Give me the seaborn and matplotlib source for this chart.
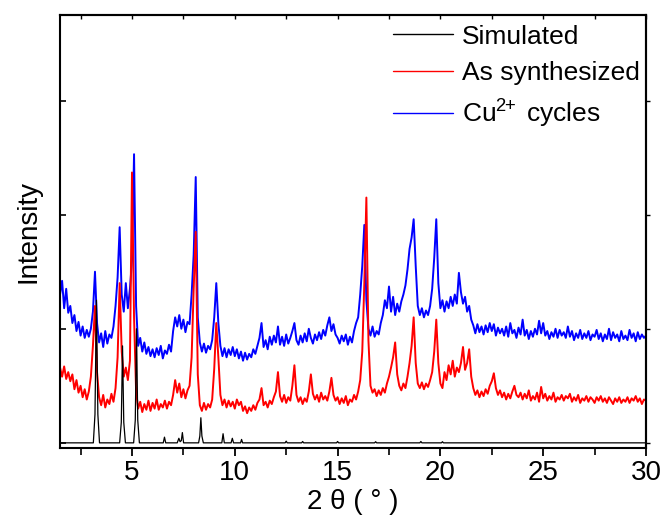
import numpy as np
import pandas as pd
import matplotlib
matplotlib.use("Agg")
import matplotlib.pyplot as plt
import seaborn as sns

# ---------------- data ----------------
# 2-theta grid for the measured patterns: 1.5 .. 30.0 in 0.1 deg steps
two_theta = np.round(np.arange(15, 301) / 10.0, 1)

as_synthesized = [
    0.66, 0.58, 0.67, 0.56, 0.62,                                   # 1.5-1.9
    0.54, 0.60, 0.47, 0.55, 0.44, 0.50, 0.40, 0.47, 0.38, 0.45,     # 2
    0.58, 0.85, 1.20, 0.62, 0.40, 0.33, 0.42, 0.31, 0.38, 0.34,     # 3
    0.43, 0.36, 0.48, 0.75, 1.40, 0.80, 0.58, 0.66, 0.55, 0.72,     # 4
    2.37, 1.10, 0.45, 0.30, 0.36, 0.27, 0.34, 0.29, 0.37, 0.28,     # 5
    0.35, 0.30, 0.38, 0.29, 0.34, 0.31, 0.37, 0.30, 0.36, 0.33,     # 6
    0.42, 0.55, 0.44, 0.52, 0.40, 0.47, 0.39, 0.46, 0.50, 0.75,     # 7
    1.35, 1.85, 0.60, 0.33, 0.28, 0.35, 0.29, 0.34, 0.31, 0.38,     # 8
    0.65, 1.05, 0.75, 0.42, 0.33, 0.38, 0.31, 0.37, 0.32, 0.36,     # 9
    0.30, 0.38, 0.33, 0.36, 0.28, 0.32, 0.26, 0.31, 0.28, 0.33,     # 10
    0.29, 0.35, 0.38, 0.48, 0.33, 0.36, 0.31, 0.37, 0.34, 0.40,     # 11
    0.45, 0.62, 0.41, 0.36, 0.42, 0.35, 0.40, 0.37, 0.50, 0.68,     # 12
    0.42, 0.36, 0.40, 0.34, 0.39, 0.36, 0.45, 0.60, 0.43, 0.38,     # 13
    0.42, 0.36, 0.44, 0.38, 0.41, 0.37, 0.45, 0.57, 0.42, 0.37,     # 14
    0.40, 0.34, 0.39, 0.35, 0.41, 0.33, 0.38, 0.36, 0.42, 0.38,     # 15
    0.45, 0.55, 0.80, 1.40, 2.15, 0.90, 0.50, 0.44, 0.47, 0.41,     # 16
    0.46, 0.42, 0.48, 0.44, 0.52, 0.58, 0.66, 0.75, 0.88, 0.60,     # 17
    0.50, 0.46, 0.52, 0.48, 0.58, 0.70, 0.85, 1.10, 0.70, 0.52,     # 18
    0.48, 0.53, 0.47, 0.52, 0.49, 0.55, 0.62, 0.80, 1.08, 0.70,     # 19
    0.52, 0.48, 0.62, 0.55, 0.68, 0.60, 0.72, 0.58, 0.66, 0.62,     # 20
    0.70, 0.84, 0.64, 0.70, 0.82, 0.58, 0.48, 0.42, 0.46, 0.40,     # 21
    0.45, 0.41, 0.47, 0.43, 0.50, 0.54, 0.61, 0.48, 0.42, 0.46,     # 22
    0.40, 0.44, 0.38, 0.43, 0.39, 0.45, 0.50, 0.42, 0.40, 0.44,     # 23
    0.38, 0.43, 0.39, 0.46, 0.37, 0.41, 0.38, 0.44, 0.36, 0.49,     # 24
    0.39, 0.43, 0.37, 0.41, 0.38, 0.44, 0.36, 0.40, 0.38, 0.42,     # 25
    0.37, 0.41, 0.39, 0.43, 0.36, 0.40, 0.37, 0.42, 0.35, 0.39,     # 26
    0.37, 0.41, 0.36, 0.40, 0.38, 0.35, 0.40, 0.37, 0.41, 0.36,     # 27
    0.39, 0.35, 0.40, 0.37, 0.34, 0.39, 0.36, 0.40, 0.35, 0.38,     # 28
    0.36, 0.40, 0.35, 0.39, 0.37, 0.41, 0.36, 0.39, 0.34, 0.38,     # 29
    0.37,                                                           # 30
]

cu_cycles = [
    1.30, 1.42, 1.18, 1.35, 1.14,                                   # 1.5-1.9
    1.20, 1.05, 1.12, 0.98, 1.06, 0.94, 1.02, 0.92, 0.99, 0.93,     # 2
    1.00, 1.15, 1.50, 1.05, 0.88, 0.96, 0.84, 0.98, 0.87, 0.95,     # 3
    0.92, 1.02, 1.20, 1.45, 1.89, 1.30, 1.15, 1.40, 1.18, 1.35,     # 4
    1.60, 2.53, 1.20, 0.85, 0.92, 0.80, 0.88, 0.78, 0.84, 0.76,     # 5
    0.82, 0.75, 0.83, 0.77, 0.85, 0.74, 0.81, 0.78, 0.86, 0.80,     # 6
    0.98, 1.10, 1.02, 1.12, 1.00, 1.08, 0.97, 1.06, 1.04, 1.30,     # 7
    1.65, 2.33, 1.10, 0.88, 0.80, 0.87, 0.79, 0.85, 0.82, 0.90,     # 8
    1.10, 1.40, 1.05, 0.85, 0.76, 0.83, 0.75, 0.82, 0.77, 0.84,     # 9
    0.76, 0.82, 0.74, 0.80, 0.72, 0.79, 0.73, 0.78, 0.75, 0.82,     # 10
    0.78, 0.85, 0.92, 1.05, 0.84, 0.90, 0.82, 0.93, 0.86, 0.94,     # 11
    0.88, 1.02, 0.86, 0.93, 0.85, 0.95, 0.87, 0.92, 0.98, 1.05,     # 12
    0.90, 0.86, 0.94, 0.88, 0.96, 0.89, 1.00, 0.92, 0.87, 0.95,     # 13
    0.90, 0.97, 0.91, 0.99, 0.94, 1.03, 1.10, 0.98, 1.04, 0.95,     # 14
    0.92, 0.87, 0.94, 0.89, 0.95, 0.86, 0.93, 0.88, 0.98, 1.05,     # 15
    1.10, 1.30, 1.55, 1.91, 1.25, 1.00, 0.94, 1.02, 0.93, 0.98,     # 16
    0.95, 1.05, 1.12, 1.25, 1.18, 1.37, 1.15, 1.28, 1.12, 1.22,     # 17
    1.15, 1.24, 1.30, 1.38, 1.52, 1.70, 1.80, 1.96, 1.55, 1.20,     # 18
    1.12, 1.18, 1.10, 1.16, 1.12, 1.20, 1.35, 1.62, 1.96, 1.40,     # 19
    1.18, 1.25, 1.15, 1.24, 1.18, 1.28, 1.20, 1.30, 1.22, 1.49,     # 20
    1.32, 1.22, 1.28, 1.15, 1.20, 1.08, 1.03, 0.96, 1.04, 0.97,     # 21
    1.02, 0.95, 1.03, 0.97, 1.05, 0.98, 1.04, 0.94, 1.01, 0.96,     # 22
    1.00, 0.94, 1.02, 0.93, 1.05, 0.96, 0.99, 0.92, 1.01, 0.95,     # 23
    1.08, 0.94, 0.99, 0.91, 0.98, 0.93, 1.00, 0.95, 1.07, 0.96,     # 24
    1.05, 0.94, 0.98, 0.91, 0.97, 0.93, 1.00, 0.92, 0.99, 0.94,     # 25
    0.97, 0.92, 1.02, 0.93, 0.98, 0.90, 0.96, 0.92, 0.99, 0.91,     # 26
    0.96, 0.92, 0.98, 0.90, 0.95, 0.93, 0.99, 0.91, 0.96, 0.89,     # 27
    0.95, 0.91, 1.00, 0.90, 0.97, 0.92, 0.95, 0.89, 0.98, 0.91,     # 28
    0.94, 0.90, 0.99, 0.92, 0.96, 0.89, 0.97, 0.91, 0.95, 0.92,     # 29
    0.94,                                                           # 30
]

# simulated pattern: sharp peaks on a flat baseline
sim_two_theta = [1.5, 3.12, 3.20, 3.27, 3.34, 3.42,
                 4.40, 4.48, 4.54, 4.60, 4.68,
                 5.08, 5.16, 5.22, 5.28, 5.36,
                 6.52, 6.58, 6.64, 7.20, 7.28, 7.34, 7.40, 7.45, 7.51,
                 8.24, 8.30, 8.35, 8.40, 8.47,
                 9.37, 9.43, 9.49, 9.82, 9.88, 9.94, 10.28, 10.33, 10.38,
                 12.45, 12.5, 12.55, 13.25, 13.3, 13.35, 14.95, 15.0, 15.05,
                 16.8, 16.85, 16.9, 19.0, 19.05, 19.1, 20.05, 20.1, 20.15, 30.0]
simulated = [0.0, 0.0, 0.25, 1.25, 0.25, 0.0,
             0.0, 0.18, 0.85, 0.18, 0.0,
             0.0, 0.2, 1.0, 0.2, 0.0,
             0.0, 0.05, 0.0, 0.0, 0.04, 0.01, 0.02, 0.09, 0.0,
             0.0, 0.06, 0.22, 0.06, 0.0,
             0.0, 0.08, 0.0, 0.0, 0.04, 0.0, 0.0, 0.03, 0.0,
             0.0, 0.015, 0.0, 0.0, 0.012, 0.0, 0.0, 0.012, 0.0,
             0.0, 0.01, 0.0, 0.0, 0.012, 0.0, 0.0, 0.01, 0.0, 0.0]

labels = ["Simulated", "As synthesized", "Cu$^{2\\!\\!+}$ cycles"]
colors = ["#000000", "#ff0000", "#0000ff"]

x_major = [5, 10, 15, 20, 25, 30]
x_minor = [2.5, 7.5, 12.5, 17.5, 22.5, 27.5]
y_major = [0, 1, 2, 3]

assert len(as_synthesized) == len(two_theta) == len(cu_cycles)

# ---------------- plotting ----------------
sns.set_style("ticks")
plt.rcParams["font.family"] = ["Liberation Sans", "DejaVu Sans"]
plt.rcParams["mathtext.fontset"] = "custom"
plt.rcParams["mathtext.rm"] = "Liberation Sans"
plt.rcParams["mathtext.it"] = "Liberation Sans:italic"
plt.rcParams["text.color"] = "black"
plt.rcParams["axes.labelcolor"] = "black"
plt.rcParams["xtick.color"] = "black"
plt.rcParams["ytick.color"] = "black"

fig = plt.figure(figsize=(6.67, 5.25), dpi=100)
ax = fig.add_axes([0.09, 0.1467, 0.8785, 0.8247])

df_cu = pd.DataFrame({"x": two_theta, "y": cu_cycles})
df_as = pd.DataFrame({"x": two_theta, "y": as_synthesized})
df_sim = pd.DataFrame({"x": sim_two_theta, "y": simulated})

sns.lineplot(data=df_cu, x="x", y="y", color=colors[2], lw=1.4, ax=ax,
             estimator=None, sort=False, label=labels[2])
sns.lineplot(data=df_as, x="x", y="y", color=colors[1], lw=1.4, ax=ax,
             estimator=None, sort=False, label=labels[1])
sns.lineplot(data=df_sim, x="x", y="y", color=colors[0], lw=0.9, ax=ax,
             estimator=None, sort=False, label=labels[0])

ax.set_xlim(1.5, 30)
ax.set_ylim(-0.045, 3.75)
ax.set_xticks(x_major)
ax.set_xticks(x_minor, minor=True)
ax.set_yticks(y_major)
ax.set_yticklabels([])

for s in ax.spines.values():
    s.set_linewidth(1.5)
    s.set_color("black")
    s.set_visible(True)

ax.tick_params(axis="x", which="major", direction="out", length=6, width=1.3,
               labelsize=20, pad=3, top=False)
ax.tick_params(axis="x", which="minor", direction="out", length=5, width=1.2,
               top=False)
ax.tick_params(axis="y", which="major", direction="in", length=4, width=1.2,
               right=False)

# top axis: small inward ticks, right axis: small outward ticks (no labels)
secx = ax.secondary_xaxis("top")
secx.set_xticks(x_major)
secx.set_xticks(x_minor, minor=True)
secx.tick_params(which="both", direction="in", length=3, width=1.0,
                 labeltop=False)
secx.spines["top"].set_linewidth(1.5)
secy = ax.secondary_yaxis("right")
secy.set_yticks(y_major)
secy.tick_params(direction="out", length=3, width=1.0, labelright=False)
secy.spines["right"].set_linewidth(1.5)

ax.set_xlabel("2 θ ( ° )", fontsize=20, labelpad=2)
ax.set_ylabel("Intensity", fontsize=20, labelpad=10)

handles, labs = ax.get_legend_handles_labels()
order = [labs.index(l) for l in labels]
leg = ax.legend([handles[i] for i in order], [labs[i] for i in order],
                loc="upper left", bbox_to_anchor=(0.568, 0.978),
                frameon=False, fontsize=19, borderpad=0, borderaxespad=0,
                handlelength=2.27, handletextpad=0.34, labelspacing=0.48)
for h in leg.get_lines():
    h.set_linewidth(1.0)

fig.savefig("out.png", dpi=100)
